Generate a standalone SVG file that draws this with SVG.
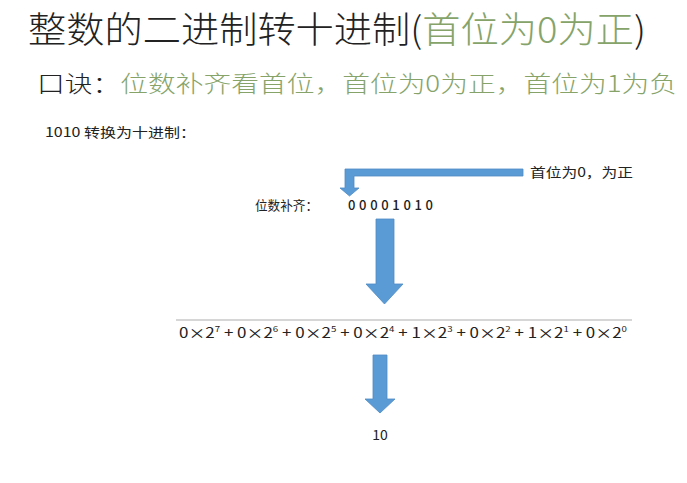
<svg xmlns="http://www.w3.org/2000/svg" width="687" height="483" viewBox="0 0 687 483">
<style>
text{font-family:"Noto Sans CJK SC","Noto Sans",sans-serif;fill:#222}
.g{fill:#86a46a}
.arrow{fill:#5b9bd5;stroke:#4f8bc4;stroke-width:0.8}
.sm{font-size:13px}
.sup{font-size:8px}
</style>
<rect width="687" height="483" fill="#fff"/>
<g id="title">
<text x="28" y="43" font-size="36" font-weight="300" fill="#2a2a2a" textLength="618" lengthAdjust="spacingAndGlyphs">整数的二进制转十进制(<tspan class="g">首位为0为正</tspan>)</text>
</g>
<g id="rhyme">
<text x="37" y="92" font-size="23" font-weight="300" textLength="640" lengthAdjust="spacingAndGlyphs">口诀：<tspan class="g">位数补齐看首位，首位为0为正，首位为1为负</tspan></text>
</g>
<g id="heading">
<text x="45" y="137" class="sm" textLength="151" lengthAdjust="spacingAndGlyphs">1010 转换为十进制：</text>
</g>
<g id="note">
<text x="530" y="177" class="sm" textLength="103" lengthAdjust="spacingAndGlyphs">首位为0，为正</text>
</g>
<g id="padded">
<text x="255" y="210" class="sm" textLength="63" lengthAdjust="spacingAndGlyphs">位数补齐：</text>
<text x="348" y="210" font-size="13" font-weight="500" fill="#333" textLength="85" lengthAdjust="spacing">00001010</text>
</g>
<g id="formula">
<line x1="176" y1="320" x2="632" y2="320" stroke="#c9c9c9" stroke-width="1.5"/>
<text x="179" y="338" font-size="14" textLength="448" lengthAdjust="spacingAndGlyphs">0×2<tspan class="sup" dy="-6">7</tspan><tspan dy="6"> + 0×2</tspan><tspan class="sup" dy="-6">6</tspan><tspan dy="6"> + 0×2</tspan><tspan class="sup" dy="-6">5</tspan><tspan dy="6"> + 0×2</tspan><tspan class="sup" dy="-6">4</tspan><tspan dy="6"> + 1×2</tspan><tspan class="sup" dy="-6">3</tspan><tspan dy="6"> + 0×2</tspan><tspan class="sup" dy="-6">2</tspan><tspan dy="6"> + 1×2</tspan><tspan class="sup" dy="-6">1</tspan><tspan dy="6"> + 0×2</tspan><tspan class="sup" dy="-6">0</tspan></text>
</g>
<g id="result">
<text x="380" y="440" font-size="14" text-anchor="middle">10</text>
</g>
<g id="connectors">
<polygon class="arrow" points="523,169 345,169 345,188 340,188 349.5,196 359,188 354,188 354,176 523,176"/>
<polygon class="arrow" points="376,219 394,219 394,284 403,284 384.5,304 366,284 376,284"/>
<polygon class="arrow" points="373,355 387,355 387,399 395,399 380,413 365,399 373,399"/>
</g>
</svg>
